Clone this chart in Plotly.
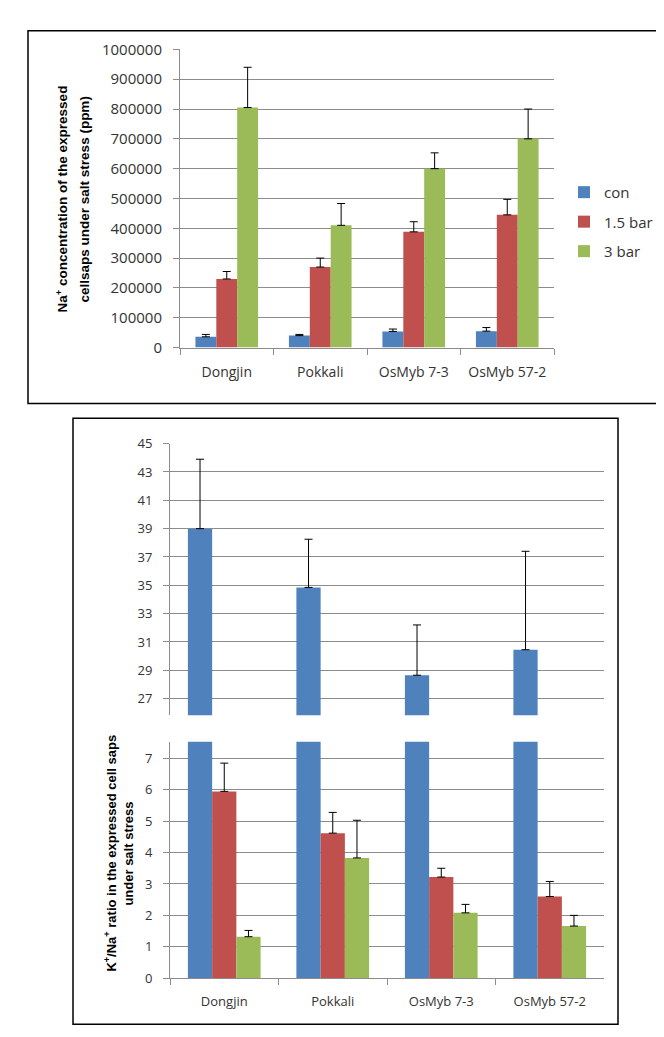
import plotly.graph_objects as go

categories = ["Dongjin", "Pokkali", "OsMyb 7-3", "OsMyb 57-2"]
series_names = ["con", "1.5 bar", "3 bar"]
colors = ["#4F81BD", "#C0504D", "#9BBB59"]

# Top chart: Na+ concentration (ppm)
na_con = [36000, 40000, 54000, 55000]
na_con_err = [8000, 4000, 8000, 12000]
na_15 = [230000, 270000, 388000, 445000]
na_15_err = [25000, 30000, 34000, 52000]
na_3 = [805000, 410000, 600000, 700000]
na_3_err = [135000, 73000, 53000, 100000]

# Bottom chart: K+/Na+ ratio
kn_con = [39.0, 34.85, 28.65, 30.45]
kn_con_err = [4.9, 3.4, 3.55, 6.95]
kn_15 = [5.95, 4.62, 3.22, 2.6]
kn_15_err = [0.9, 0.66, 0.28, 0.48]
kn_3 = [1.32, 3.83, 2.08, 1.66]
kn_3_err = [0.2, 1.2, 0.27, 0.34]

W, H = 664, 1037
def px(x):
    return x / W
def py(y):
    return 1 - y / H

fig = go.Figure()

top_vals = [(na_con, na_con_err), (na_15, na_15_err), (na_3, na_3_err)]
bot_vals = [(kn_con, kn_con_err), (kn_15, kn_15_err), (kn_3, kn_3_err)]

for i, (name, col) in enumerate(zip(series_names, colors)):
    v, e = top_vals[i]
    fig.add_trace(go.Bar(
        x=categories, y=v, name=name, marker=dict(color=col, line=dict(width=0)),
        error_y=dict(type="data", symmetric=False, array=e, arrayminus=[0] * len(e),
                     color="black", thickness=1, width=4),
        xaxis="x", yaxis="y", legendgroup=name, showlegend=True))
for xa, ya in [("x2", "y2"), ("x3", "y3")]:
    for i, (name, col) in enumerate(zip(series_names, colors)):
        v, e = bot_vals[i]
        fig.add_trace(go.Bar(
            x=categories, y=v, name=name, marker=dict(color=col, line=dict(width=0)),
            error_y=dict(type="data", symmetric=False, array=e, arrayminus=[0] * len(e),
                         color="black", thickness=1, width=4),
            xaxis=xa, yaxis=ya, legendgroup=name, showlegend=False))

FAM = "Open Sans, Liberation Sans, sans-serif"
def tf(size):
    return dict(family=FAM, size=size, color="#333333")
grid = "#8c8c8c"

fig.update_layout(
    width=W, height=H, margin=dict(l=0, r=0, t=0, b=0),
    paper_bgcolor="white", plot_bgcolor="white",
    barmode="group", bargap=0.33, bargroupgap=0,
    font=tf(14),
    legend=dict(x=px(556), y=py(160), xanchor="left", yanchor="top",
                font=tf(15), tracegroupgap=7, bgcolor="rgba(0,0,0,0)"),
    xaxis=dict(domain=[px(172), px(546)], anchor="y", showline=True, linecolor=grid,
               ticks="outside", tickson="boundaries", ticklen=6, tickcolor=grid,
               showgrid=False, tickfont=tf(14), ticklabelstandoff=12),
    yaxis=dict(domain=[py(335), py(31)], anchor="x", range=[0, 1000000], dtick=100000,
               showline=True, linecolor=grid, ticks="outside", ticklen=6, tickcolor=grid,
               gridcolor=grid, gridwidth=1, zeroline=False, tickformat="d",
               tickfont=tf(15), ticklabelstandoff=8),
    xaxis2=dict(domain=[px(162), px(596)], anchor="y2", showline=False, showticklabels=False,
                ticks="", showgrid=False, matches="x3"),
    yaxis2=dict(domain=[py(710), py(433)], anchor="x2", range=[25.82, 45], tick0=27, dtick=2,
                showline=True, linecolor=grid, ticks="outside", ticklen=6, tickcolor=grid,
                gridcolor=grid, zeroline=False, tickfont=tf(13), ticklabelstandoff=8),
    xaxis3=dict(domain=[px(162), px(596)], anchor="y3", showline=True, linecolor=grid,
                ticks="outside", tickson="boundaries", ticklen=6, tickcolor=grid,
                showgrid=False, tickfont=tf(13), ticklabelstandoff=11),
    yaxis3=dict(domain=[py(978), py(737)], anchor="x3", range=[0, 7.53], dtick=1,
                showline=True, linecolor=grid, ticks="outside", ticklen=6, tickcolor=grid,
                gridcolor=grid, zeroline=False, tickfont=tf(13), ticklabelstandoff=8),
)

# panel borders
fig.add_shape(type="rect", xref="paper", yref="paper", x0=px(20), x1=px(656), y0=py(392), y1=py(12),
              line=dict(color="black", width=1.5))
fig.add_shape(type="rect", xref="paper", yref="paper", x0=px(65), x1=px(610), y0=py(1025), y1=py(407),
              line=dict(color="black", width=1.5))

tf_bold = dict(family="Liberation Sans, Arial, sans-serif", size=13.5, color="black")
tf_bold2 = dict(family="Liberation Sans, Arial, sans-serif", size=13, color="black")
titles = [
    ("<b>Na<sup>+</sup> concentration of the expressed</b>", 54, 184, tf_bold),
    ("<b>cellsaps under salt stress (ppm)</b>", 76, 184, tf_bold),
    ("<b>K<sup>+</sup>/Na<sup>+</sup> ratio in the expressed cell saps</b>", 102, 851, tf_bold2),
    ("<b>under salt stress</b>", 121, 851, tf_bold2),
]
for txt, tx, ty, fnt in titles:
    fig.add_annotation(text=txt, x=px(tx), y=py(ty), xref="paper", yref="paper",
                       xanchor="center", yanchor="middle", textangle=-90,
                       showarrow=False, font=fnt)

fig.write_html("out.html")
